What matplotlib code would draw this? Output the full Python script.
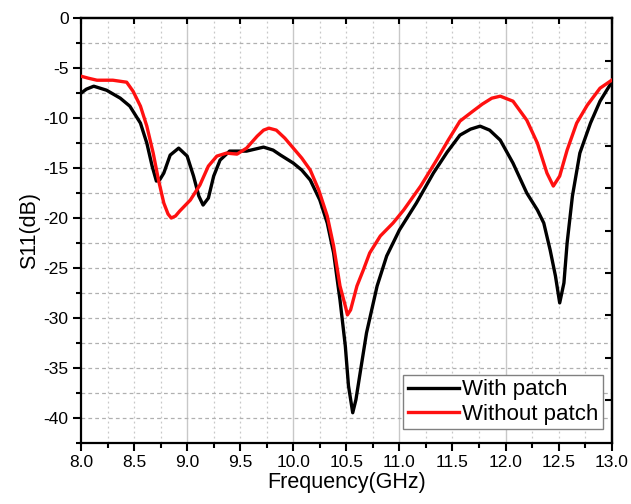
import numpy as np
import matplotlib
matplotlib.use("Agg")
import matplotlib.pyplot as plt

plt.rcParams['font.family'] = ['Liberation Sans', 'DejaVu Sans']

# With patch
f_with = [8.00, 8.05, 8.12, 8.24, 8.37, 8.46, 8.56, 8.62, 8.67, 8.71, 8.74, 8.78, 8.84, 8.92,
          9.00, 9.06, 9.11, 9.15, 9.20, 9.25, 9.31, 9.40, 9.56, 9.72, 9.81, 9.88, 10.00, 10.08,
          10.16, 10.25, 10.32, 10.38, 10.44, 10.49, 10.52, 10.56, 10.59, 10.63, 10.69, 10.79,
          10.88, 11.00, 11.16, 11.32, 11.45, 11.57, 11.67, 11.76, 11.85, 11.95, 12.07, 12.20,
          12.30, 12.36, 12.42, 12.47, 12.51, 12.55, 12.58, 12.63, 12.70, 12.80, 12.89, 13.00]
s_with = [-7.5, -7.1, -6.8, -7.2, -8.0, -8.8, -10.5, -12.5, -14.8, -16.3, -16.2, -15.5, -13.7, -13.0,
          -13.8, -15.8, -17.8, -18.7, -18.0, -15.8, -14.2, -13.3, -13.3, -12.9, -13.2, -13.7, -14.5, -15.2,
          -16.2, -18.2, -20.5, -23.5, -28.2, -32.8, -36.8, -39.5, -38.2, -35.5, -31.5, -26.8,
          -23.8, -21.2, -18.5, -15.5, -13.4, -11.7, -11.1, -10.8, -11.2, -12.2, -14.5, -17.5,
          -19.2, -20.5, -23.2, -25.8, -28.5, -26.5, -22.5, -17.8, -13.5, -10.5, -8.3, -6.4]

# Without patch
f_without = [8.00, 8.07, 8.15, 8.30, 8.43, 8.49, 8.56, 8.62, 8.68, 8.73, 8.78, 8.82, 8.85, 8.89,
             8.93, 9.03, 9.12, 9.20, 9.28, 9.37, 9.47, 9.56, 9.66, 9.72, 9.77, 9.84, 9.92, 10.00,
             10.08, 10.16, 10.24, 10.32, 10.38, 10.44, 10.49, 10.51, 10.54, 10.60, 10.66, 10.72,
             10.82, 10.94, 11.04, 11.20, 11.35, 11.46, 11.57, 11.68, 11.78, 11.87, 11.95, 12.07,
             12.20, 12.30, 12.39, 12.45, 12.51, 12.58, 12.67, 12.77, 12.89, 13.00]
s_without = [-5.8, -6.0, -6.2, -6.2, -6.4, -7.3, -8.8, -10.8, -13.5, -16.2, -18.5, -19.6, -20.0, -19.8,
             -19.3, -18.2, -16.7, -14.8, -13.8, -13.5, -13.6, -13.0, -11.8, -11.2, -11.0, -11.2, -12.0, -13.0,
             -14.0, -15.2, -17.2, -19.8, -22.8, -26.8, -28.8, -29.7, -29.2, -26.8, -25.2, -23.5,
             -21.8, -20.5, -19.2, -16.8, -14.2, -12.2, -10.3, -9.4, -8.6, -8.0, -7.8, -8.3,
             -10.2, -12.5, -15.5, -16.8, -15.8, -13.2, -10.5, -8.7, -7.0, -6.2]

labels = ["With patch", "Without patch"]
xticks = [8.0, 8.5, 9.0, 9.5, 10.0, 10.5, 11.0, 11.5, 12.0, 12.5, 13.0]
yticks = [0, -5, -10, -15, -20, -25, -30, -35, -40]

fig = plt.figure(figsize=(6.31, 5.04), dpi=100)
ax = fig.add_axes([0.1284, 0.1216, 0.8410, 0.8421])
ax.set_xlim(8.0, 13.0)
ax.set_ylim(-42.5, 0)

# grid
for xv in np.arange(8.25, 13.0, 0.25):
    if abs(xv - round(xv)) < 1e-6:
        ax.axvline(xv, color='#c8c8c8', lw=1.0, ls='-', zorder=0)
    else:
        ax.axvline(xv, color='#c8c8c8', lw=0.9, ls=(0, (1.5, 2.5)), zorder=0)
for yv in np.arange(-40, 0, 2.5):
    ax.axhline(yv, color='#b0b0b0', lw=0.9, ls=(0, (3, 2.5)), zorder=0)

ax.plot(f_with, s_with, color='black', lw=2.4, label=labels[0], zorder=3,
        solid_joinstyle='round')
ax.plot(f_without, s_without, color='#ff1010', lw=2.4, label=labels[1], zorder=3,
        solid_joinstyle='round')

ax.set_xticks(xticks)
ax.set_xticklabels([f"{v:.1f}" for v in xticks])
ax.set_xticks(np.arange(8.25, 13.0, 0.5), minor=True)
ax.set_yticks(yticks)
ax.set_yticklabels([str(v) for v in yticks])
ax.set_yticks(np.arange(-42.5, 0, 5), minor=True)
ax.tick_params(axis='both', which='major', direction='out', length=6, width=1.5,
               labelsize=12.5, pad=3)
ax.tick_params(axis='both', which='minor', direction='out', length=3.5, width=1.5)

for sp in ax.spines.values():
    sp.set_linewidth(1.6)

# top ticks inward
axt = ax.secondary_xaxis('top')
axt.set_xticks(xticks)
axt.tick_params(direction='in', length=4, width=1.5, labelsize=0)
axt.set_xticklabels([])
axt.spines['top'].set_linewidth(1.6)

# right ticks inward
axr = ax.secondary_yaxis('right')
axr.set_yticks([-4.25 * k for k in range(1, 10)])
axr.tick_params(direction='in', length=5, width=1.5)
axr.set_yticklabels([])
axr.spines['right'].set_linewidth(1.6)

ax.set_xlabel("Frequency(GHz)", fontsize=15.5, labelpad=1)
ax.set_ylabel("S11(dB)", fontsize=15.5, labelpad=2)

leg = ax.legend(loc='lower right', bbox_to_anchor=(0.984, 0.032), borderaxespad=0,
                fontsize=16, handlelength=2.3, handletextpad=0.15, labelspacing=0.15,
                borderpad=0.2, fancybox=False, framealpha=1, edgecolor='#808080')
leg.get_frame().set_linewidth(1.0)
for line in leg.get_lines():
    line.set_linewidth(2.4)

fig.savefig("out.png", dpi=100)
